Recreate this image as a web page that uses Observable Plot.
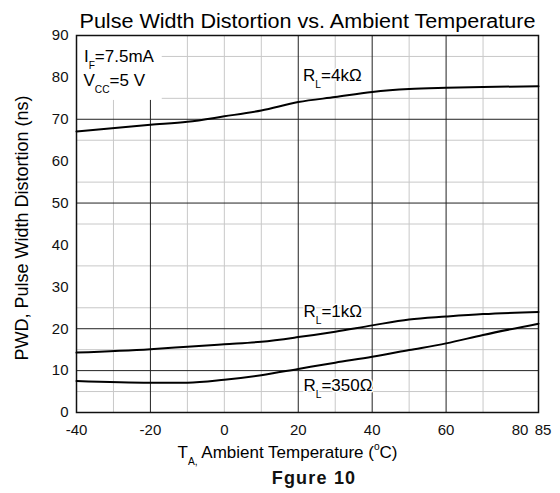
<!DOCTYPE html>
<html>
<head>
<meta charset="utf-8">
<script src="https://cdn.jsdelivr.net/npm/d3@7"></script>
<script src="https://cdn.jsdelivr.net/npm/@observablehq/plot@0.6"></script>
<style>
  body { margin: 0; background: #fff; font-family: "Liberation Sans", Arial, sans-serif; }
  svg { display: block; }
  #caption { font-weight: bold; font-size: 18px; line-height: 20px; text-align: center;
             padding-left: 68px; letter-spacing: 1.2px; margin-top: -2px; color: #111; }
</style>
</head>
<body>
<div id="chart"></div>
<div id="caption">Fgure 10</div>
<script>
// ---- data ----
const temps   = [-40, -20, -10, 0, 10, 20, 30, 40, 50, 60, 70, 85];
const pwd4k   = [67.1, 68.7, 69.4, 70.7, 72.1, 74.1, 75.3, 76.5, 77.2, 77.5, 77.7, 77.9];
const pwd1k   = [14.3, 15.1, 15.7, 16.3, 16.9, 18.0, 19.3, 20.8, 22.2, 22.9, 23.5, 24.0];
const pwd350  = [7.5, 7.1, 7.1, 7.8, 8.9, 10.4, 11.9, 13.3, 14.9, 16.5, 18.5, 21.2];
const seriesNames = ["RL=4k", "RL=1k", "RL=350"];

const xTicks = [-40, -20, 0, 20, 40, 60, 80];
const xEndTick = [85];
const yTicks = [0, 10, 20, 30, 40, 50, 60, 70, 80, 90];
const xMajorGrid = [-20, 20, 40, 60];
const xMinorGrid = [-30, -10, 0, 10, 30, 50, 70];
const yMajorGrid = [10, 20, 50, 70];
const yMinorGrid = [5, 15, 25, 35, 45, 55, 65, 75, 85];

const noteLabels = ["I_{F}=7.5mA", "V_{CC}=5 V"];
const noteX = [-38, -38.1];
const noteY = [84.9, 79.3];
const curveLabels = ["R_{L}=4kΩ", "R_{L}=1kΩ", "R_{L}=350Ω"];
const curveLabelX = [21.3, 21.4, 21.4];
const curveLabelY = [80.5, 24.1, 6.4];

const titleText = "Pulse Width Distortion vs. Ambient Temperature";
const xLabel = "T_{A,} Ambient Temperature (^{o}C)";
const yLabel = "PWD, Pulse Width Distortion (ns)";

// ---- tables built from the arrays ----
const allSeries = [pwd4k, pwd1k, pwd350];
const rows = allSeries.flatMap((vals, s) => temps.map((t, i) => ({series: seriesNames[s], t, v: vals[i]})));
const notes = noteLabels.map((label, i) => ({label, x: noteX[i], y: noteY[i]}));
const curveNotes = curveLabels.map((label, i) => ({label, x: curveLabelX[i], y: curveLabelY[i]}));
const noteBox = [{x1: -40, x2: -16.8, y1: 74.5, y2: 90}];

const plot = Plot.plot({
  width: 560,
  height: 470,
  marginLeft: 76,
  marginRight: 22,
  marginTop: 35,
  marginBottom: 58,
  style: {fontFamily: "'Liberation Sans', Arial, sans-serif", fontSize: "15px", color: "#111", background: "#fff"},
  x: {domain: [-40, 85], ticks: xTicks, tickSize: 0, tickPadding: 12, tickFormat: d => String(d), label: null},
  y: {domain: [0, 90], ticks: yTicks, tickSize: 0, tickPadding: 8, tickFormat: d => String(d), label: null},
  marks: [
    Plot.ruleX(xMinorGrid, {stroke: "#c8c8c8", strokeWidth: 1}),
    Plot.ruleY(yMinorGrid, {stroke: "#c8c8c8", strokeWidth: 1}),
    Plot.ruleX(xMajorGrid, {stroke: "#222", strokeWidth: 1}),
    Plot.ruleY(yMajorGrid, {stroke: "#222", strokeWidth: 1}),
    Plot.rect(noteBox, {x1: "x1", x2: "x2", y1: "y1", y2: "y2", fill: "white"}),
    Plot.frame({stroke: "#111", strokeWidth: 1.5}),
    Plot.line(rows, {x: "t", y: "v", z: "series", stroke: "#000", strokeWidth: 2, curve: "monotone-x"}),
    Plot.text(xEndTick, {x: d => d, text: d => String(d), frameAnchor: "bottom", lineAnchor: "top", dy: 12, dx: 4.5, fontSize: 15, fill: "#111"}),
    Plot.text(notes, {x: "x", y: "y", text: "label", textAnchor: "start", lineAnchor: "middle", fontSize: 17, fill: "#000"}),
    Plot.text(curveNotes, {x: "x", y: "y", text: "label", textAnchor: "start", lineAnchor: "middle", fontSize: 17, fill: "#000", stroke: "white", strokeWidth: 3}),
    Plot.text([titleText], {frameAnchor: "top", textAnchor: "middle", lineAnchor: "middle", dy: -14, fontSize: 19.5, fill: "#000"}),
    Plot.text([yLabel], {frameAnchor: "left", textAnchor: "middle", lineAnchor: "middle", rotate: -90, dx: -54, dy: 4, fontSize: 18, fill: "#000"}),
    Plot.text([xLabel], {frameAnchor: "bottom", textAnchor: "middle", lineAnchor: "middle", dx: -20, dy: 40, fontSize: 17, fill: "#000"})
  ]
});

document.getElementById("chart").appendChild(plot);

// rich text: _{sub} and ^{sup}
const NS = "http://www.w3.org/2000/svg";
plot.querySelectorAll("text").forEach(t => {
  const s = t.textContent;
  if (s === titleText) {
    t.setAttribute("textLength", 456);
    t.setAttribute("lengthAdjust", "spacingAndGlyphs");
  }
  if (!/[_^]\{/.test(s)) return;
  const fs = parseFloat(getComputedStyle(t).fontSize);
  while (t.firstChild) t.removeChild(t.firstChild);
  const re = /([_^])\{([^}]*)\}/g;
  let last = 0, m, shift = 0;
  const add = (str, kind) => {
    const ts = document.createElementNS(NS, "tspan");
    ts.textContent = str;
    const target = kind === "_" ? 0.42 * fs : kind === "^" ? -0.45 * fs : 0;
    const d = target - shift;
    if (d) ts.setAttribute("dy", d);
    shift = target;
    if (kind) ts.setAttribute("font-size", 0.6 * fs);
    t.appendChild(ts);
  };
  while ((m = re.exec(s))) {
    if (m.index > last) add(s.slice(last, m.index), null);
    add(m[2], m[1]);
    last = re.lastIndex;
  }
  if (last < s.length) add(s.slice(last), null);
});
</script>
</body>
</html>
